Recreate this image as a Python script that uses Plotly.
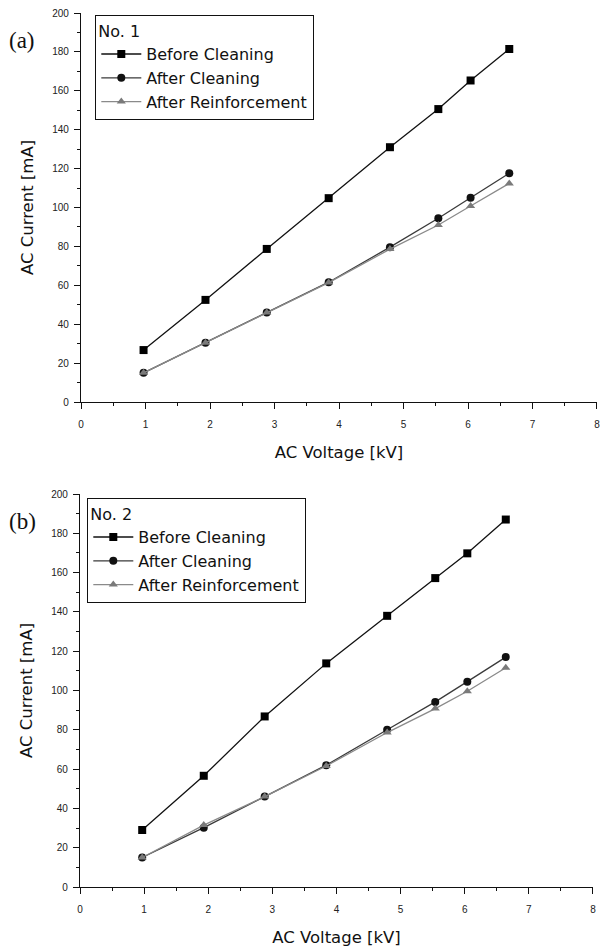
import plotly.graph_objects as go

# ---- data ----
voltage_kv = [0.97, 1.93, 2.88, 3.84, 4.79, 5.54, 6.04, 6.64]

a_before = [26.7, 52.5, 78.7, 104.8, 131.0, 150.6, 165.3, 181.5]
a_after_clean = [15.0, 30.5, 46.0, 61.6, 79.6, 94.5, 105.0, 117.6]
a_after_reinf = [15.0, 30.5, 46.0, 61.4, 78.6, 91.0, 100.8, 112.4]

b_before = [29.0, 56.6, 86.8, 113.8, 138.0, 157.2, 169.8, 187.0]
b_after_clean = [15.0, 30.2, 46.0, 62.0, 80.0, 94.2, 104.5, 117.0]
b_after_reinf = [15.0, 31.5, 46.0, 61.6, 78.6, 90.8, 99.6, 111.6]

x_ticks = [0, 1, 2, 3, 4, 5, 6, 7, 8]
series_names = ["Before Cleaning", "After Cleaning", "After Reinforcement"]
panel_titles = ["No. 1", "No. 2"]
panel_labels = ["(a)", "(b)"]
x_title = "AC Voltage [kV]"
y_title = "AC Current [mA]"

W, H = 602, 950
FONT = "Liberation Sans, Arial, sans-serif"
WIDE = "DejaVu Sans, sans-serif"

styles = [
    dict(line=dict(color="#111111", width=1.3), marker=dict(symbol="square", size=8, color="#000000")),
    dict(line=dict(color="#3a3a3a", width=1.3), marker=dict(symbol="circle", size=8, color="#111111")),
    dict(line=dict(color="#8a8a8a", width=1.3), marker=dict(symbol="triangle-up", size=8, color="#7a7a7a")),
]

fig = go.Figure()

panels = [
    ([a_before, a_after_clean, a_after_reinf], "x", "y", "legend"),
    ([b_before, b_after_clean, b_after_reinf], "x2", "y2", "legend2"),
]
for data, xa, ya, lg in panels:
    for name, vals, st in zip(series_names, data, styles):
        fig.add_trace(go.Scatter(
            x=voltage_kv, y=vals, mode="lines+markers", name=name,
            xaxis=xa, yaxis=ya, legend=lg, line=st["line"], marker=st["marker"],
        ))

def px_x(p):
    return p / W

def px_y(p):
    return 1 - p / H

def xaxis(domain, anchor, standoff):
    return dict(
        domain=domain, anchor=anchor, range=[0, 8.0001], automargin=False,
        tickmode="array", tickvals=x_ticks, ticktext=[str(v) for v in x_ticks],
        showline=True, linecolor="#111", linewidth=1.3, showgrid=False, zeroline=False,
        ticks="outside", ticklen=6, tickwidth=1.2, tickcolor="#111",
        minor=dict(dtick=0.5, tick0=0, ticks="outside", ticklen=3, tickcolor="#111", tickwidth=1),
        tickfont=dict(family=FONT, size=10, color="#222"), ticklabelstandoff=7,
        title=dict(text=x_title, font=dict(family=WIDE, size=16.5, color="#111"), standoff=standoff),
    )

def yaxis(domain, anchor):
    return dict(
        domain=domain, anchor=anchor, range=[0, 200], dtick=20, tick0=0, automargin=False,
        showline=True, linecolor="#111", linewidth=1.3, showgrid=False, zeroline=False,
        ticks="outside", ticklen=6, tickwidth=1.2, tickcolor="#111",
        minor=dict(dtick=10, ticks="outside", ticklen=3, tickcolor="#111", tickwidth=1),
        tickfont=dict(family=FONT, size=10, color="#222"), ticklabelstandoff=3,
        title=dict(text=y_title, font=dict(family=WIDE, size=16.5, color="#111"), standoff=14),
    )

def legend(x, y, title):
    return dict(
        x=x, y=y, xanchor="left", yanchor="top",
        bgcolor="white", bordercolor="#111", borderwidth=1.3,
        font=dict(family=WIDE, size=16, color="#111"),
        title=dict(text=title, font=dict(family=WIDE, size=16, color="#111")),
        itemwidth=40, tracegroupgap=0,
    )

fig.update_layout(
    width=W, height=H, margin=dict(l=0, r=0, t=0, b=0, autoexpand=False),
    paper_bgcolor="white", plot_bgcolor="white", showlegend=True,
    xaxis=xaxis([px_x(81), px_x(597)], "y", 17),
    yaxis=yaxis([px_y(402), px_y(13)], "x"),
    xaxis2=xaxis([px_x(80), px_x(593)], "y2", 17),
    yaxis2=yaxis([px_y(887), px_y(494)], "x2"),
    legend=legend(px_x(95), px_y(15), panel_titles[0]),
    legend2=legend(px_x(87), px_y(498), panel_titles[1]),
    annotations=[
        dict(text=panel_labels[0], x=px_x(22), y=px_y(40), xref="paper", yref="paper",
             xanchor="center", yanchor="middle", showarrow=False,
             font=dict(family="Liberation Serif, Times New Roman, serif", size=23, color="#111")),
        dict(text=panel_labels[1], x=px_x(22), y=px_y(521), xref="paper", yref="paper",
             xanchor="center", yanchor="middle", showarrow=False,
             font=dict(family="Liberation Serif, Times New Roman, serif", size=23, color="#111")),
    ],
)

fig.write_html("out.html", config={"displayModeBar": False},
               post_script="document.body.style.margin='0';")
